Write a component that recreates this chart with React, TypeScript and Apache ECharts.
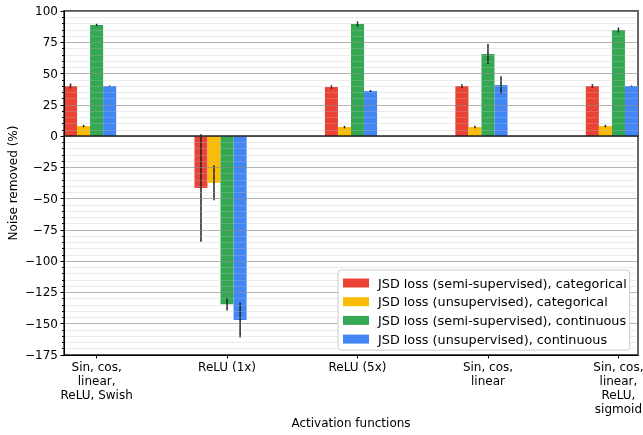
import React, { useEffect, useRef } from "react";
import * as echarts from "echarts";

const categories = [
  "Sin, cos,\nlinear,\nReLU, Swish",
  "ReLU (1x)",
  "ReLU (5x)",
  "Sin, cos,\nlinear",
  "Sin, cos,\nlinear,\nReLU,\nsigmoid",
];
const seriesNames = [
  "JSD loss (semi-supervised), categorical",
  "JSD loss (unsupervised), categorical",
  "JSD loss (semi-supervised), continuous",
  "JSD loss (unsupervised), continuous",
];
const semiCat = [40, -41.5, 39.2, 40, 40];
const semiCatErr = [2, 43, 1.5, 1.5, 1.5];
const unsupCat = [8, -37.3, 7.2, 7.2, 8];
const unsupCatErr = [1, 14, 1, 1, 1];
const semiCont = [88.8, -134.4, 89.6, 65.6, 84.8];
const semiContErr = [1, 5, 2, 8, 2];
const unsupCont = [40, -147, 36, 40.8, 40];
const unsupContErr = [0.5, 14, 0.8, 7, 0.5];
const colors = ["#EA4335", "#FBBC04", "#34A853", "#4285F4"];

const values = [semiCat, unsupCat, semiCont, unsupCont];
const errors = [semiCatErr, unsupCatErr, semiContErr, unsupContErr];
const barW = 0.1;
const offsets = [-0.2, -0.1, 0, 0.1];
const FONT = "DejaVu Sans";

export default function App() {
  const ref = useRef<HTMLDivElement>(null);
  useEffect(() => {
    if (!ref.current) return;
    const chart = echarts.init(ref.current, null, { renderer: "svg" });
    const series: any[] = values.map((vals, si) => ({
      type: "custom",
      name: seriesNames[si],
      itemStyle: { color: colors[si] },
      encode: { x: 0, y: 1 },
      data: vals.map((v, i) => [i, v, errors[si][i]]),
      renderItem: (params: any, api: any) => {
        const i = api.value(0);
        const v = api.value(1);
        const e = api.value(2);
        const c = i + offsets[si];
        const p0 = api.coord([c - barW / 2, v]);
        const p1 = api.coord([c + barW / 2, 0]);
        const t = api.coord([c, v + e]);
        const b = api.coord([c, v - e]);
        return {
          type: "group",
          children: [
            {
              type: "rect",
              shape: {
                x: p0[0],
                y: Math.min(p0[1], p1[1]),
                width: p1[0] - p0[0],
                height: Math.abs(p1[1] - p0[1]),
              },
              style: { fill: colors[si] },
            },
            {
              type: "line",
              shape: { x1: t[0], y1: t[1], x2: b[0], y2: b[1] },
              style: { stroke: "#222", lineWidth: 1.5 },
            },
          ],
        };
      },
    }));
    chart.setOption({
      animation: false,
      textStyle: { fontFamily: FONT },
      grid: {
        left: 64,
        right: 5,
        top: 11,
        bottom: 80,
        outerBoundsMode: "none",
        containLabel: false,
        show: true,
        borderColor: "#555",
        borderWidth: 1.8,
        backgroundColor: "transparent",
      },
      legend: {
        orient: "vertical",
        left: 338,
        top: 270,
        itemWidth: 26,
        itemHeight: 9,
        itemGap: 4.7,
        icon: "rect",
        backgroundColor: "#fff",
        borderColor: "#ccc",
        borderWidth: 1,
        borderRadius: 3,
        padding: [6, 3, 4, 5],
        textStyle: { fontFamily: FONT, fontSize: 12.8, lineHeight: 14, color: "#000", padding: [0, 0, 0, 4] },
        data: seriesNames,
        z: 30,
      },
      xAxis: [
        {
          type: "value",
          min: -0.25,
          max: 4.15,
          name: "Activation functions",
          nameLocation: "middle",
          nameGap: 62,
          nameMoveOverlap: false,
          nameTextStyle: { fontFamily: FONT, fontSize: 12, color: "#000" },
          axisLine: { onZero: false, lineStyle: { color: "#000", width: 1 } },
          axisTick: { show: true, customValues: [0, 1, 2, 3, 4], length: 3.5, lineStyle: { color: "#000" } },
          axisLabel: {
            customValues: [0, 1, 2, 3, 4],
            formatter: (v: number) => categories[Math.round(v)],
            fontFamily: FONT,
            fontSize: 12,
            color: "#000",
            lineHeight: 14,
            margin: 5,
            hideOverlap: false,
          },
          splitLine: { show: false },
          z: 12,
        },
        {
          type: "value",
          min: -0.25,
          max: 4.15,
          position: "bottom",
          axisLine: { show: true, onZero: true, lineStyle: { color: "#222", width: 1.5 } },
          axisTick: { show: false },
          axisLabel: { show: false },
          splitLine: { show: false },
          z: 13,
        },
      ],
      yAxis: {
        type: "value",
        min: -175,
        max: 100,
        interval: 25,
        name: "Noise removed (%)",
        nameLocation: "middle",
        nameGap: 45,
        nameMoveOverlap: false,
        nameTextStyle: { fontFamily: FONT, fontSize: 12, color: "#000" },
        axisLine: { show: true, onZero: false, lineStyle: { color: "#000", width: 1 } },
        axisTick: { show: true, length: 3.5, lineStyle: { color: "#000" } },
        minorTick: { show: true, splitNumber: 5, length: 2, lineStyle: { color: "#000" } },
        axisLabel: {
          formatter: (v: number) => String(v).replace("-", "\u2212"),
          fontFamily: FONT,
          fontSize: 12,
          color: "#000",
          margin: 6,
        },
        splitLine: { show: true, lineStyle: { color: "rgba(140,140,140,0.65)", width: 1 } },
        minorSplitLine: { show: true, lineStyle: { color: "rgba(190,190,190,0.3)", width: 1 } },
        z: 10,
      },
      series,
    });
    return () => chart.dispose();
  }, []);
  return (
    <div
      ref={ref}
      style={{ position: "fixed", left: 0, top: 0, width: 643, height: 435 }}
    />
  );
}
